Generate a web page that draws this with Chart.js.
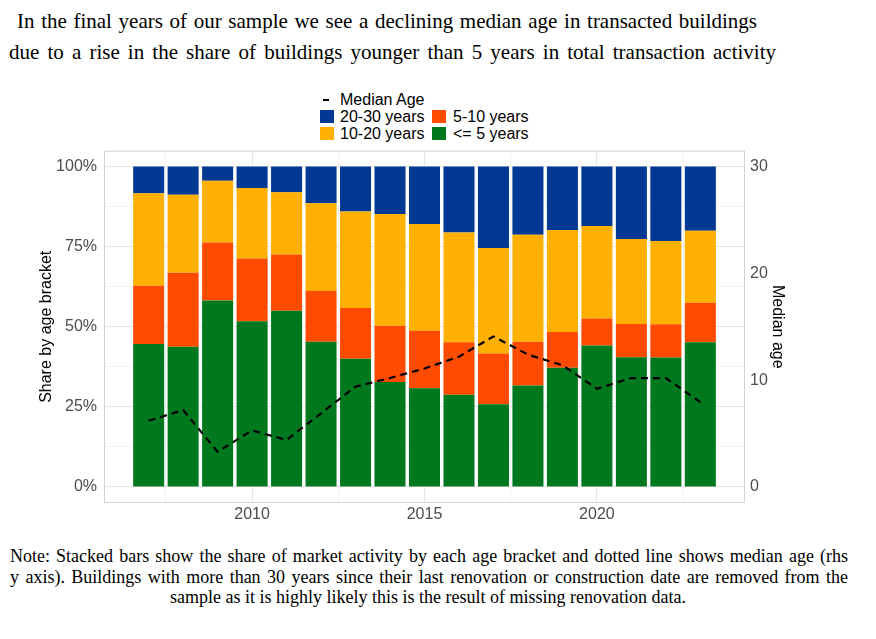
<!DOCTYPE html>
<html>
<head>
<meta charset="utf-8">
<script src="https://cdn.jsdelivr.net/npm/chart.js@4.4.0/dist/chart.umd.min.js"></script>
<style>
  body { margin: 0; background: #fff; width: 876px; height: 639px; position: relative; overflow: hidden; }
  .serif { font-family: "Liberation Serif", "Times New Roman", serif; color: #000; position: absolute; white-space: nowrap; }
  .just { text-align: justify; text-align-last: justify; white-space: normal; }
  #chartBox { position: absolute; left: 0; top: 134px; width: 876px; height: 396px; }
  .leg { position: absolute; font-family: "Liberation Sans", Arial, sans-serif; font-size: 16px; color: #000; line-height: 16px; }
  .sw { position: absolute; width: 14px; height: 13px; }
</style>
</head>
<body>
<div class="serif just" style="left:17px; top:9px; width:740px; font-size:21px;">In the final years of our sample we see a declining median age in transacted buildings</div>
<div class="serif just" style="left:9px; top:40px; width:767px; font-size:21px;">due to a rise in the share of buildings younger than 5 years in total transaction activity</div>

<div style="position:absolute; left:323px; top:99px; width:6px; height:2px; background:#000;"></div>
<div class="leg" style="left:340px; top:92px;">Median Age</div>
<div class="sw" style="left:320px; top:110px; background:#003893;"></div>
<div class="leg" style="left:340px; top:109px;">20-30 years</div>
<div class="sw" style="left:432px; top:110px; background:#FF4B00;"></div>
<div class="leg" style="left:453px; top:109px;">5-10 years</div>
<div class="sw" style="left:320px; top:127px; background:#FFB000;"></div>
<div class="leg" style="left:340px; top:126px;">10-20 years</div>
<div class="sw" style="left:432px; top:127px; background:#00791E;"></div>
<div class="leg" style="left:453px; top:126px;">&lt;= 5 years</div>

<div id="chartBox"><canvas id="chart"></canvas></div>

<div class="serif just" style="left:10px; top:546px; width:838px; font-size:18px;">Note: Stacked bars show the share of market activity by each age bracket and dotted line shows median age (rhs</div>
<div class="serif just" style="left:10px; top:567px; width:838px; font-size:18px;">y axis). Buildings with more than 30 years since their last renovation or construction date are removed from the</div>
<div class="serif" style="left:0; top:587px; width:856px; text-align:center; font-size:18px;">sample as it is highly likely this is the result of missing renovation data.</div>

<script>
const years = [2007, 2008, 2009, 2010, 2011, 2012, 2013, 2014, 2015, 2016, 2017, 2018, 2019, 2020, 2021, 2022, 2023];
const shareUpTo5 = [44.6, 43.8, 58.2, 51.7, 55.0, 45.3, 40.0, 32.8, 30.8, 28.8, 25.8, 31.7, 37.2, 44.2, 40.5, 40.4, 45.2];
const share5to10 = [18.2, 23.1, 18.1, 19.6, 17.6, 15.9, 15.9, 17.5, 18.0, 16.4, 15.9, 13.6, 11.2, 8.4, 10.4, 10.4, 12.3];
const share10to20 = [28.9, 24.3, 19.3, 22.0, 19.4, 27.4, 30.1, 34.9, 33.3, 34.2, 32.9, 33.4, 31.8, 28.9, 26.5, 26.0, 22.5];
const share20to30 = [8.3, 8.8, 4.4, 6.7, 8.0, 11.4, 14.0, 14.8, 17.9, 20.6, 25.4, 21.3, 19.8, 18.5, 22.6, 23.2, 20.0];
const medianAge = [6.2, 7.2, 3.3, 5.3, 4.4, 6.9, 9.4, 10.2, 11.1, 12.2, 14.1, 12.4, 11.4, 9.2, 10.2, 10.2, 7.95];

const xTicks = [2007.5, 2010, 2012.5, 2015, 2017.5, 2020, 2022.5];
const yTicks = [0, 12.5, 25, 37.5, 50, 62.5, 75, 87.5, 100];
const y2Ticks = [0, 10, 20, 30];

const toPoints = (vals) => vals.map((v, i) => ({ x: years[i], y: v }));

function barSet(label, vals, color) {
  return {
    type: 'bar',
    label,
    data: toPoints(vals),
    backgroundColor: color,
    borderWidth: 0,
    yAxisID: 'y',
    order: 1,
    categoryPercentage: 1.0,
    barPercentage: 0.9
  };
}

const panelBorder = {
  id: 'panelBorder',
  beforeDatasetsDraw(chart) {
    const { ctx, chartArea: a } = chart;
    ctx.save();
    ctx.strokeStyle = '#d3d3d3';
    ctx.lineWidth = 1;
    ctx.strokeRect(a.left + 0.5, a.top + 0.5, a.right - a.left - 1, a.bottom - a.top - 1);
    ctx.restore();
  }
};

const tickFont = { family: '"Liberation Sans", Arial, sans-serif', size: 16 };
const titleFont = { family: '"Liberation Sans", Arial, sans-serif', size: 16 };

new Chart(document.getElementById('chart'), {
  data: {
    datasets: [
      {
        type: 'line',
        label: 'Median Age',
        data: toPoints(medianAge),
        borderColor: '#000',
        borderWidth: 2.2,
        borderDash: [7, 5],
        pointRadius: 0,
        tension: 0,
        fill: false,
        yAxisID: 'y2',
        order: 0
      },
      barSet('<= 5 years', shareUpTo5, '#00791E'),
      barSet('5-10 years', share5to10, '#FF4B00'),
      barSet('10-20 years', share10to20, '#FFB000'),
      barSet('20-30 years', share20to30, '#003893')
    ]
  },
  options: {
    responsive: true,
    maintainAspectRatio: false,
    animation: false,
    layout: { padding: { left: 33, right: 85, top: 0, bottom: 0 } },
    plugins: { legend: { display: false }, tooltip: { enabled: false } },
    scales: {
      x: {
        type: 'linear',
        stacked: true,
        offset: false,
        min: 2005.705,
        max: 2024.295,
        afterBuildTicks: (s) => { s.ticks = xTicks.map(v => ({ value: v })); },
        afterFit: (s) => { s.height = 27; },
        ticks: {
          color: '#4d4d4d',
          font: tickFont,
          padding: 2,
          maxRotation: 0,
          autoSkip: false,
          callback: (v) => (v % 5 === 0 ? String(v) : '')
        },
        grid: {
          offset: false,
          drawTicks: false,
          color: (c) => (c.tick && c.tick.value % 5 === 0 ? '#e6e6e6' : '#f3f3f3'),
          lineWidth: 1
        },
        border: { display: false }
      },
      y: {
        position: 'left',
        stacked: true,
        min: -5,
        max: 105,
        afterBuildTicks: (s) => { s.ticks = yTicks.map(v => ({ value: v })); },
        afterFit: (s) => { s.width = 71; },
        ticks: {
          color: '#4d4d4d',
          font: tickFont,
          padding: 7,
          autoSkip: false,
          callback: (v) => (v % 25 === 0 ? v + '%' : '')
        },
        grid: {
          drawTicks: false,
          color: (c) => (c.tick && c.tick.value % 25 === 0 ? '#e6e6e6' : '#f3f3f3'),
          lineWidth: 1
        },
        border: { display: false },
        title: { display: true, text: 'Share by age bracket', color: '#000', font: titleFont, padding: 4 }
      },
      y2: {
        position: 'right',
        stacked: false,
        min: -1.5,
        max: 31.5,
        afterBuildTicks: (s) => { s.ticks = y2Ticks.map(v => ({ value: v })); },
        afterFit: (s) => { s.width = 46; },
        ticks: { color: '#4d4d4d', font: tickFont, padding: 5, autoSkip: false },
        grid: { display: false, drawTicks: false },
        border: { display: false },
        title: { display: true, text: 'Median age', color: '#000', font: titleFont, padding: 4 }
      }
    }
  },
  plugins: [panelBorder]
});
</script>
</body>
</html>
